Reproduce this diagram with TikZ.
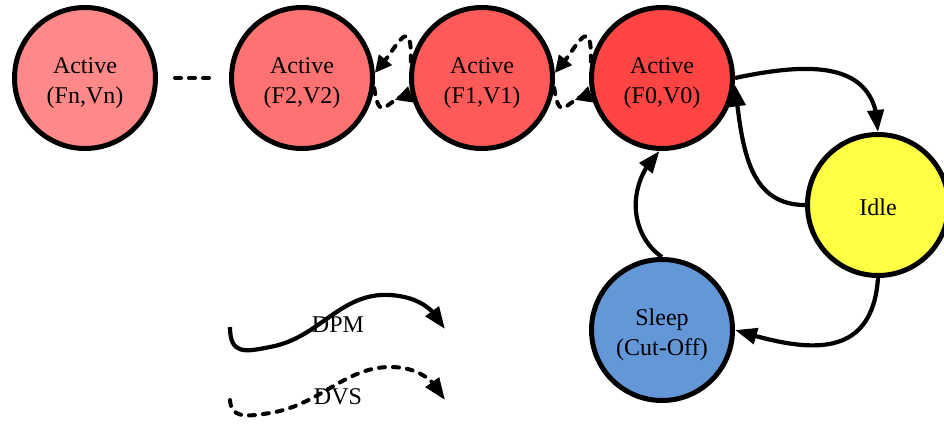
\documentclass[tikz,border=0pt]{standalone}
\usepackage{fontspec}
\setmainfont{Liberation Serif}
\usetikzlibrary{arrows.meta,bending}
\definecolor{cFn}{HTML}{FF8888}
\definecolor{cFtwo}{HTML}{FF7272}
\definecolor{cFone}{HTML}{FF5A5A}
\definecolor{cFzero}{HTML}{FF4444}
\definecolor{cIdle}{HTML}{FFFF44}
\definecolor{cSleep}{HTML}{6497D8}
\newcommand{\twolines}[2]{\raisebox{-4pt}[\height][\depth]{\begin{tabular}{@{}c@{}}#1\\#2\end{tabular}}}
\begin{document}
\begin{tikzpicture}[x=1pt,y=-1pt,
  state/.style={circle,draw=black,line width=5pt,minimum size=141pt,inner sep=0pt,align=center,font=\fontsize{24}{30}\selectfont},
  edge/.style={line width=4.2pt,-{Triangle[length=22pt,width=16pt]}},
  dashedge/.style={line width=4pt,line cap=round,dash pattern=on 6pt off 8pt},
  looptip/.style={-{Triangle[length=17pt,width=16pt]}},
  revtip/.style={-{Triangle[length=17pt,width=16pt,reversed]}},
  lbl/.style={font=\fontsize{24}{30}\selectfont,inner sep=0pt}]
\useasboundingbox (0,0) rectangle (944,429);

\node[state,fill=cFn] (Fn) at (85,78) {\twolines{Active}{(Fn,Vn)}};
\node[state,fill=cFtwo] (F2) at (302,78) {\twolines{Active}{(F2,V2)}};
\node[state,fill=cFone] (F1) at (482,78) {\twolines{Active}{(F1,V1)}};
\node[state,fill=cFzero] (F0) at (662,78) {\twolines{Active}{(F0,V0)}};
\node[state,fill=cIdle] (Idle) at (878,205) {\raisebox{-2pt}[\height][\depth]{Idle}};
\node[state,fill=cSleep] (Sleep) at (662,330) {\twolines{Sleep}{(Cut-Off)}};

% ellipsis
\draw[dashedge, shorten <=17pt, shorten >=19pt] (Fn) -- (F2);

% DVS loops between F2 and F1
\draw[dashedge,looptip] (F1.167) .. controls (412,8) and (395,52) .. (F2.4);
\draw[dashedge,revtip] (F2.-8) .. controls (380,128) and (388,95) .. (F1.193);
% DVS loops between F1 and F0
\draw[dashedge,looptip] (F0.167) .. controls (592,8) and (575,52) .. (F1.4);
\draw[dashedge,revtip] (F1.-8) .. controls (560,128) and (568,95) .. (F0.193);

% DPM edges
\draw[edge] (F0.east) .. controls (810,62) and (878,60) .. (Idle.north);
\draw[edge] (Idle.west) .. controls (745,205) and (742,140) .. (F0.-5);
\draw[edge] (Idle.south) .. controls (872,365) and (800,350) .. (Sleep.east);
\draw[edge] (Sleep.north) .. controls (630,235) and (625,185) .. (F0.-92);

% legend
\coordinate (dpmA) at (230,327);
\coordinate (dpmB) at (445,329);
\draw[edge] (dpmA) .. controls (230,355) and (245,352) .. (270,347)
  .. controls (320,338) and (340,292) .. (390,295)
  .. controls (420,297) and (435,310) .. (dpmB);
\node[lbl] (dpm) at (338,325) {DPM};

\coordinate (dvsA) at (230,400);
\coordinate (dvsB) at (445,400);
\draw[dashedge,-{Triangle[length=22pt,width=16pt]}] (dvsA) .. controls (231,418) and (245,417) .. (270,413)
  .. controls (320,405) and (345,367) .. (390,367)
  .. controls (418,367) and (435,380) .. (dvsB);
\node[lbl] (dvs) at (338,397) {DVS};
\end{tikzpicture}
\end{document}
